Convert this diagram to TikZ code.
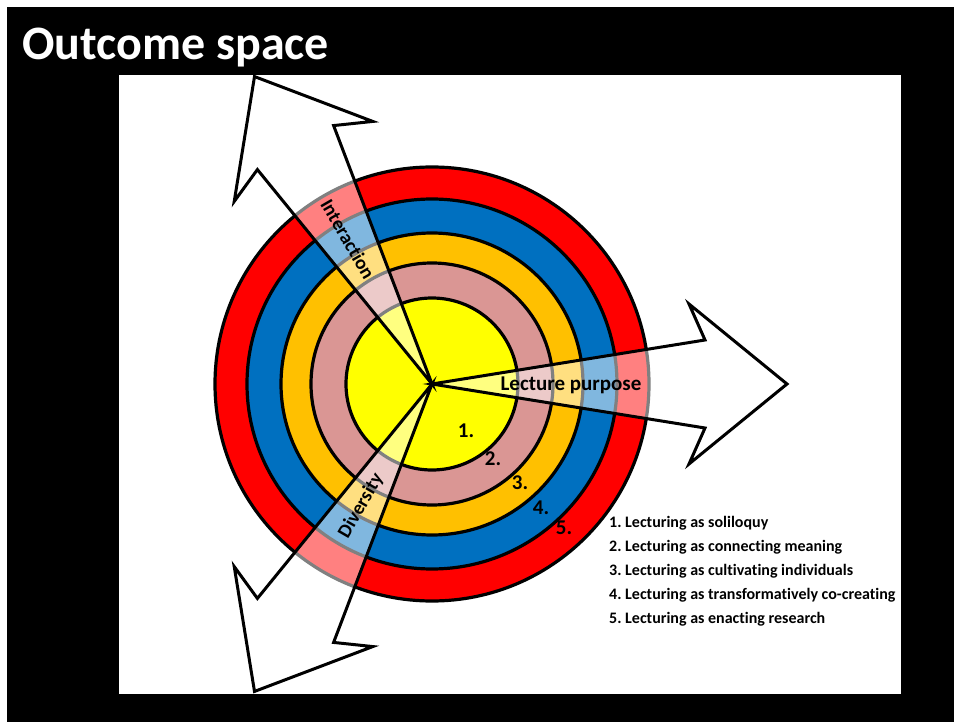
\documentclass[tikz,border=0pt]{standalone}
\usepackage{fontspec}
\setmainfont{Carlito}[Ligatures=NoCommon]
\frenchspacing
\definecolor{ringred}{RGB}{255,0,0}
\definecolor{ringblue}{RGB}{0,112,192}
\definecolor{ringorange}{RGB}{255,192,0}
\definecolor{ringpink}{RGB}{218,150,148}
\definecolor{ringyellow}{RGB}{255,255,0}
\usetikzlibrary{positioning}

\begin{document}
\begin{tikzpicture}[x=1pt,y=-1pt,
    ring/.style={draw=black,line width=3.2pt},
    bigarrow/.style={draw=black,line width=3pt,line join=miter,
                     fill=white,fill opacity=0.5},
    lbl/.style={font=\bfseries\fontsize{21}{24}\selectfont,inner sep=0pt},
    slant/.style={font=\bfseries\fontsize{19.5}{22}\selectfont,inner sep=0pt},
    key/.style={font=\bfseries\fontsize{16}{18}\selectfont,
                anchor=base west,inner sep=0pt}]
  % slide
  \fill[white] (0,0) rectangle (954,722);
  \fill[black] (7,7) rectangle (954,722);
  \fill[white] (119,75) rectangle (901,694);
  \node[anchor=base west,inner sep=0pt,text=white,
        font=\bfseries\fontsize{48}{52}\selectfont] (title) at (22,60) {Outcome space};

  % rings
  \coordinate (c) at (432,384);
  \foreach \r/\col in {217/ringred,185/ringblue,151/ringorange,121/ringpink,86/ringyellow}
    \draw[ring,fill=\col] (c) circle[radius=\r pt];

  % three arrows
  \foreach \a in {0,120,240}
    \draw[bigarrow,shift={(c)},rotate=\a]
      (0,0) -- (273,44) -- (257,80) -- (355,0) -- (257,-80) -- (273,-44) -- cycle;

  \node[lbl] (purpose) at (571,385) {Lecture purpose};
  \node[slant,rotate=-60] (interaction) at (348,239) {Interaction};
  \node[slant,rotate=60] (diversity) at (361,506) {Diversity};

  % ring numbers
  \foreach \i/\x/\y in {1/466/431,2/493/459,3/520/483,4/541/508,5/564/528}
    \node[lbl] (n\i) at (\x,\y) {\i.};

  % legend
  \node[key] (k1) at (609,527) {1. Lecturing as soliloquy};
  \node[key] (k2) at (609,551) {2. Lecturing as connecting meaning};
  \node[key] (k3) at (609,575) {3. Lecturing as cultivating individuals};
  \node[key] (k4) at (609,599) {4. Lecturing as transformatively co-creating};
  \node[key] (k5) at (609,623) {5. Lecturing as enacting research};
\end{tikzpicture}
\end{document}
